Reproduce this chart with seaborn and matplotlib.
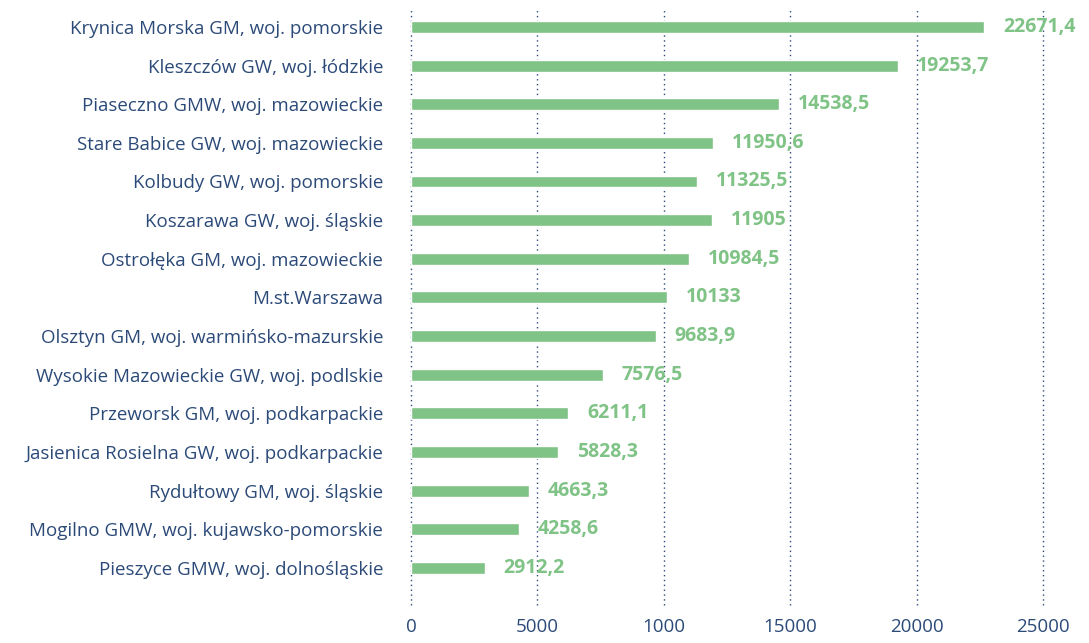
import matplotlib
matplotlib.use("Agg")
import matplotlib.pyplot as plt
import seaborn as sns
import pandas as pd

categories = [
    "Krynica Morska GM, woj. pomorskie",
    "Kleszczów GW, woj. łódzkie",
    "Piaseczno GMW, woj. mazowieckie",
    "Stare Babice GW, woj. mazowieckie",
    "Kolbudy GW, woj. pomorskie",
    "Koszarawa GW, woj. śląskie",
    "Ostrołęka GM, woj. mazowieckie",
    "M.st.Warszawa",
    "Olsztyn GM, woj. warmińsko-mazurskie",
    "Wysokie Mazowieckie GW, woj. podlskie",
    "Przeworsk GM, woj. podkarpackie",
    "Jasienica Rosielna GW, woj. podkarpackie",
    "Rydułtowy GM, woj. śląskie",
    "Mogilno GMW, woj. kujawsko-pomorskie",
    "Pieszyce GMW, woj. dolnośląskie",
]
values = [22671.4, 19253.7, 14538.5, 11950.6, 11325.5, 11905, 10984.5, 10133,
          9683.9, 7576.5, 6211.1, 5828.3, 4663.3, 4258.6, 2912.2]
tick_values = [0, 5000, 10000, 15000, 20000, 25000]
tick_labels = ["0", "5000", "1000", "15000", "20000", "25000"]

GREEN = "#80c386"
BLUE = "#2c4a78"

sns.set_theme(style="white")
plt.rcParams["font.family"] = ["Open Sans", "DejaVu Sans"]

df = pd.DataFrame({"name": categories, "value": values})

fig = plt.figure(figsize=(10.89, 6.43), dpi=100)
ax = fig.add_axes([411/1089, 1 - 605/643, (1043 - 411)/1089, (605 - 8)/643])

sns.barplot(data=df, y="name", x="value", orient="h", color=GREEN,
            width=0.31, saturation=1, ax=ax)

ax.set_xlim(0, 25000)
ax.set_ylim(len(categories) - 1 + 0.96, -0.49)
ax.set_xticks(tick_values)
ax.set_xticklabels(tick_labels, fontsize=13.5, color=BLUE)
ax.tick_params(axis="x", length=0, pad=9)
ax.tick_params(axis="y", length=0, pad=20, labelsize=13.5, labelcolor=BLUE)
ax.set_xlabel("")
ax.set_ylabel("")
for s in ax.spines.values():
    s.set_visible(False)
ax.grid(False)
for t in tick_values:
    ax.axvline(t, color=BLUE, linestyle=(0, (1, 2.5)), linewidth=1.0,
               zorder=0, clip_on=False)

for i, v in enumerate(values):
    txt = f"{v:g}".replace(".", ",")
    ax.annotate(txt, xy=(v, i), xytext=(19, 0), textcoords="offset pixels",
                va="center", ha="left", fontsize=14, fontweight="bold", color=GREEN)

fig.savefig("out.png", dpi=100)
